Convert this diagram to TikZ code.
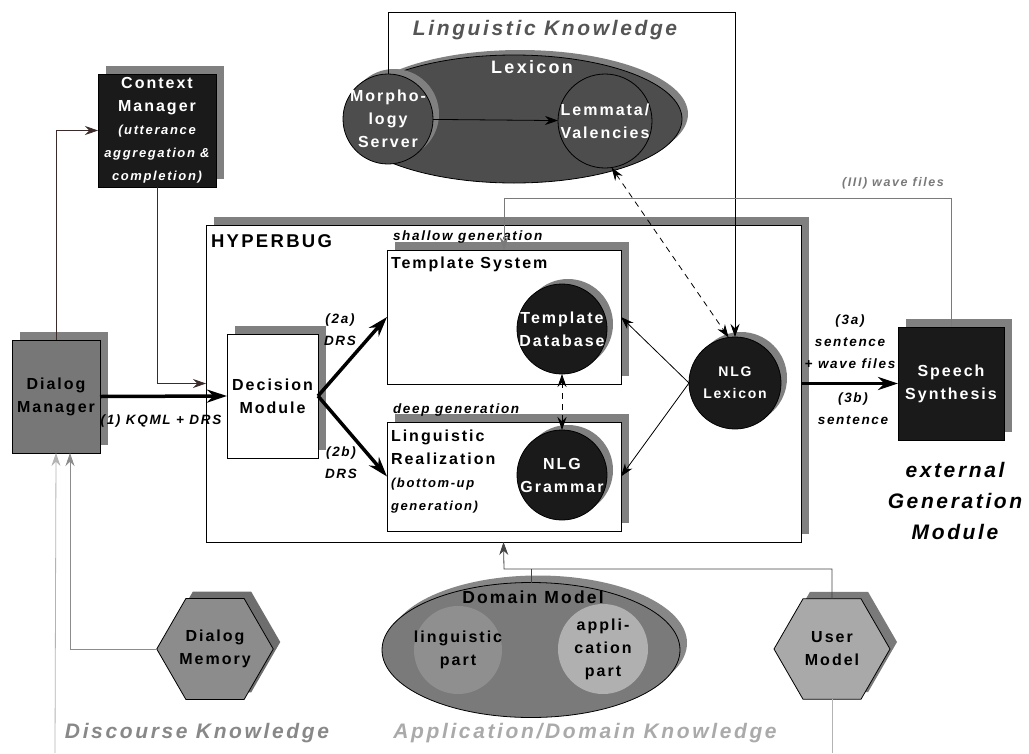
\documentclass[tikz,border=0pt]{standalone}
\usepackage{fontspec}
\setmainfont{Liberation Sans}[LetterSpace=12.5]
\usetikzlibrary{arrows.meta,shapes.geometric,shadows}
\definecolor{ink}{HTML}{1A1A1A}
\definecolor{lexgray}{HTML}{4D4D4D}
\definecolor{shadowgray}{HTML}{808080}
\definecolor{mgrgray}{HTML}{777777}
\definecolor{memgray}{HTML}{8C8C8C}
\definecolor{memshadow}{HTML}{6E6E6E}
\definecolor{usergray}{HTML}{A9A9A9}
\definecolor{usershadow}{HTML}{7A7A7A}
\definecolor{domgray}{HTML}{7A7A7A}
\definecolor{domshadow}{HTML}{878787}
\definecolor{lingpartgray}{HTML}{8F8F8F}
\definecolor{apppartgray}{HTML}{B0B0B0}
\definecolor{linkdark}{HTML}{3B2B2B}
\definecolor{wavegray}{HTML}{7A7A7A}
\definecolor{lingtext}{HTML}{555555}
\definecolor{disctext}{HTML}{888888}
\definecolor{apptext}{HTML}{AAAAAA}
\definecolor{feedgray}{HTML}{8C8C8C}
\definecolor{palegray}{HTML}{B3B3B3}
\definecolor{domlink}{HTML}{444444}
\newcommand\aside{\bfseries\itshape\fontsize{13}{19.5}\selectfont}

\begin{document}
\begin{tikzpicture}[x=1pt,y=-1pt,inner sep=0pt,outer sep=0pt,line width=0.8pt,
>={Stealth[length=13pt,width=9pt]},
txt/.style={font=\bfseries\fontsize{16}{23}\selectfont,align=center},
note/.style={font=\bfseries\itshape\fontsize{13.5}{22}\selectfont,align=center},
area/.style={font=\bfseries\itshape\fontsize{21}{31}\selectfont,align=center},
boxshadow/.style={drop shadow={shadow xshift=8pt,shadow yshift=8pt,fill=shadowgray,opacity=1}},
discshadow/.style={drop shadow={shadow xshift=6pt,shadow yshift=5pt,fill=shadowgray,opacity=1}},
sysblock/.style={draw,rectangle,fill=white,boxshadow,txt},
darkblock/.style={draw,rectangle,fill=ink,text=white,boxshadow,txt},
darkdisc/.style={draw,circle,inner sep=-8pt,fill=ink,text=white,discshadow,txt},
lexdisc/.style={draw,circle,inner sep=-8pt,fill=lexgray,text=white,txt},
partdisc/.style={circle,inner sep=-8pt,txt},
hexblock/.style={draw,regular polygon,regular polygon sides=6,minimum size=116pt,txt},
fat/.style={line width=3.5pt,-{Stealth[length=20pt,width=13pt]}}]

\useasboundingbox (0,0) rectangle (1029,753);

% linguistic knowledge
\node[draw,ellipse,fill=lexgray,minimum width=336pt,minimum height=128pt,discshadow] (lexicon) at (514,119) {};
\node[font=\bfseries\fontsize{18}{22}\selectfont,text=white] (lexname) at (532,67) {Lexicon};
\node[lexdisc,discshadow,minimum size=90pt] (morph) at (388,119) {Morpho-\\logy\\Server};
\node[lexdisc,minimum size=94pt] (lemmata) at (605,121) {Lemmata/\\Valencies};
\node[area,text=lingtext] (lingknow) at (545,30) {Linguistic Knowledge};

% dialog side
\node[darkblock,minimum width=118pt,minimum height=113pt] (ctx) at (157,130.5)
  {Context\\Manager\\\aside(utterance\\\aside aggregation \&\\\aside completion)};
\node[sysblock,fill=mgrgray,minimum width=88pt,minimum height=113pt] (dlgmgr) at (56,396.5) {Dialog\\Manager};

% HYPERBUG
\node[sysblock,minimum width=595pt,minimum height=317pt] (hyperbug) at (503.5,383.5) {};
\node[font=\bfseries\fontsize{18.5}{22}\selectfont,anchor=west] (hbname) at (211,241) {HYPERBUG};
\node[sysblock,minimum width=91pt,minimum height=124pt] (decision) at (272.5,396) {Decision\\Module};
\node[sysblock,minimum width=234pt,minimum height=134pt] (tsys) at (504,317) {};
\node[sysblock,minimum width=234pt,minimum height=109pt] (lingreal) at (504,476.5) {};
\node[note,anchor=west] (shallow) at (393,237) {shallow generation};
\node[note,anchor=west] (deep) at (393,410) {deep generation};
\node[txt,anchor=west] (tsysname) at (391,264) {Template System};
\node[txt,anchor=north west,align=left] (lrname) at (391,430)
  {Linguistic\\Realization\\\aside(bottom-up\\\aside generation)};
\node[darkdisc,minimum size=90pt] (tdb) at (562,329) {Template\\Database};
\node[darkdisc,minimum size=90pt] (nlggram) at (562,475) {NLG\\Grammar};
\node[darkdisc,minimum size=92pt,font=\bfseries\fontsize{14}{22}\selectfont] (nlglex) at (735,383) {NLG\\Lexicon};

% external generation
\node[darkblock,minimum width=106pt,minimum height=113pt] (speech) at (951,383.5) {Speech\\Synthesis};
\node[area,text=black] (extgen) at (955,501) {external\\Generation\\Module};

% domain side
\node[draw,ellipse,fill=domgray,minimum width=298pt,minimum height=135pt,
  drop shadow={shadow xshift=7pt,shadow yshift=7pt,fill=domshadow,opacity=1}] (domain) at (531,650) {};
\node[partdisc,fill=lingpartgray,minimum size=88pt] (lingpart) at (458,650) {linguistic\\part};
\node[partdisc,fill=apppartgray,minimum size=90pt] (apppart) at (603,649) {appli-\\cation\\part};
\node[font=\bfseries\fontsize{17.5}{20}\selectfont] (domname) at (533,597) {Domain Model};
\node[hexblock,fill=memgray,drop shadow={shadow xshift=7pt,shadow yshift=7pt,fill=memshadow,opacity=1}] (dlgmem) at (215,649) {Dialog\\Memory};
\node[hexblock,fill=usergray,drop shadow={shadow xshift=7pt,shadow yshift=7pt,fill=usershadow,opacity=1}] (usermodel) at (832,649) {User\\Model};
\node[area,text=disctext] (discknow) at (197,733) {Discourse Knowledge};
\node[area,text=apptext] (appknow) at (585,733) {Application/Domain Knowledge};

\coordinate (lkcorner) at (735,12);
\coordinate (wavecorner) at (504,198);
\coordinate (dmjoin) at (504,569);
\coordinate (discin) at (55,753);
\coordinate (userout) at (832,753);

% connectors
\draw[->] (morph) -- (lemmata);
\draw[->] (morph.north) |- (lkcorner) -- (nlglex.north);
\draw[<->,dash pattern=on 6pt off 5pt] (lemmata.-82) -- (nlglex.98);
\draw[->,linkdark] (dlgmgr.north) |- (ctx.west);
\draw[->,linkdark] (ctx.south) |- (hyperbug.west);
\draw[fat] (dlgmgr.east) -- (decision.west);
\node[note] (kqml) at (161,421) {(1) KQML + DRS};
\draw[fat] (decision.east) -- (tsys.west);
\draw[fat] (decision.east) -- (lingreal.west);
\node[note] (drs2a) at (340,330) {(2a)\\DRS};
\node[note] (drs2b) at (341,463) {(2b)\\DRS};
\draw[<->,dash pattern=on 6pt off 5pt] (tdb) -- (nlggram);
\draw[->] (nlglex.west) -- (tsys.east);
\draw[->] (nlglex.west) -- (lingreal.east);
\draw[fat] (hyperbug.east) -- (speech.west);
\node[note] (sent3a) at (850,342) {(3a)\\sentence\\+ wave files};
\node[note] (sent3b) at (853,409) {(3b)\\sentence};
\draw[->,wavegray] (speech.north) |- (wavecorner) -- (tsys.north);
\node[note,text=wavegray,font=\bfseries\itshape\fontsize{12.5}{15}\selectfont] (wavefiles) at (893,183) {(III) wave files};
\draw[->,domlink] (usermodel.north) |- (dmjoin) -- (hyperbug.south);
\draw[domlink] (domain.north) -- (domain.north |- dmjoin);
\draw[->,feedgray] (dlgmem.west) -| ([xshift=14pt]dlgmgr.south);
\draw[->,palegray] (discin) -- (dlgmgr.south);
\draw[palegray] (usermodel.south) -- (userout);

\end{tikzpicture}
\end{document}
